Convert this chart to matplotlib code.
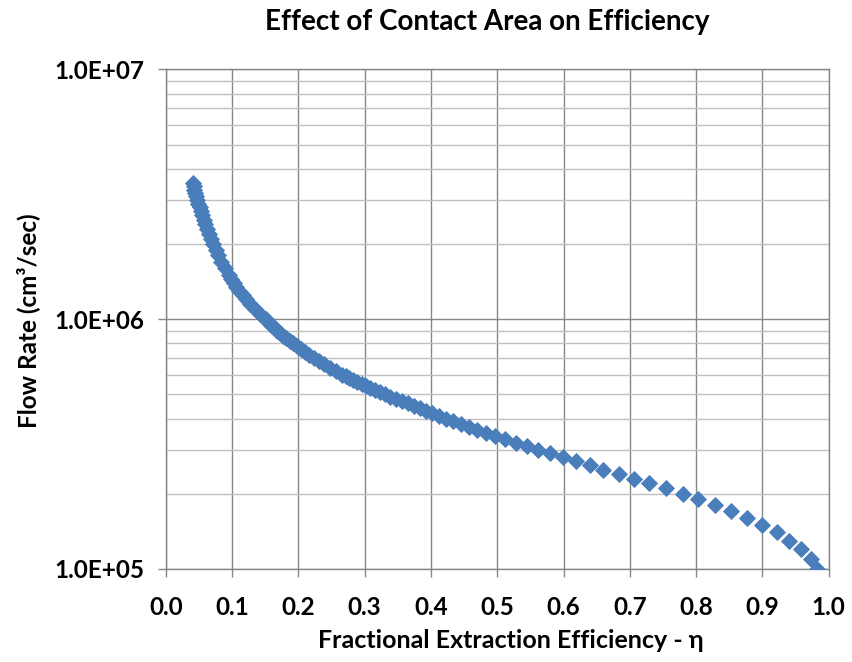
import numpy as np
import matplotlib
matplotlib.use("Agg")
import matplotlib.pyplot as plt
from matplotlib.ticker import FixedLocator, FuncFormatter, LogLocator, NullFormatter

plt.rcParams['font.family'] = ['Lato', 'DejaVu Sans']
plt.rcParams['font.weight'] = 'bold'

# flow rate in units of 1e5 cm3/sec
flow_rate_e5 = [
    1.0, 1.1, 1.2, 1.3, 1.4, 1.5, 1.6, 1.7, 1.8, 1.9,
    2.0, 2.1, 2.2, 2.3, 2.4, 2.5, 2.6, 2.7, 2.8, 2.9,
    3.0, 3.1, 3.2, 3.3, 3.4, 3.5, 3.6, 3.7, 3.8, 3.9,
    4.0, 4.1, 4.2, 4.3, 4.4, 4.5, 4.6, 4.7, 4.8, 4.9,
    5.0, 5.1, 5.2, 5.3, 5.4, 5.5, 5.6, 5.7, 5.8, 5.9,
    6.0, 6.2, 6.4, 6.6, 6.8, 7.0, 7.2, 7.4, 7.6, 7.8,
    8.0, 8.2, 8.4, 8.6, 8.8, 9.0, 9.2, 9.4, 9.6, 9.8,
    10.0, 10.5, 11.0, 11.5, 12.0, 12.5, 13.0, 13.5, 14.0, 14.5,
    15.0, 16.0, 17.0, 18.0, 19.0, 20.0, 21.0, 22.0, 23.0, 24.0,
    25.0, 26.0, 27.0, 28.0, 29.0, 30.0, 31.0, 32.0, 33.0, 34.0,
    35.0,
]
# fractional extraction efficiency (eta) for each flow rate
efficiency = [
    0.982, 0.973, 0.958, 0.940, 0.922, 0.899, 0.877, 0.853, 0.828, 0.803,
    0.780, 0.754, 0.729, 0.706, 0.684, 0.660, 0.640, 0.619, 0.599, 0.579,
    0.562, 0.545, 0.528, 0.512, 0.497, 0.483, 0.469, 0.457, 0.445, 0.433,
    0.4225, 0.412, 0.402, 0.3926, 0.383, 0.3738, 0.3648, 0.3557, 0.3471, 0.3388,
    0.3308, 0.3231, 0.3158, 0.3087, 0.3019, 0.2953, 0.2889, 0.2828, 0.2769, 0.2712,
    0.2658, 0.2561, 0.2472, 0.2388, 0.2309, 0.2233, 0.2163, 0.2096, 0.2033, 0.1974,
    0.1919, 0.1867, 0.1818, 0.1771, 0.1726, 0.1684, 0.1645, 0.1606, 0.1570, 0.1535,
    0.151, 0.1424, 0.1347, 0.1278, 0.1217, 0.1162, 0.1112, 0.1067, 0.1026, 0.0988,
    0.0953, 0.0894, 0.0841, 0.0794, 0.0753, 0.0715, 0.0681, 0.0650, 0.0622, 0.0596,
    0.0572, 0.0550, 0.0530, 0.0511, 0.0493, 0.0477, 0.0461, 0.0447, 0.0433, 0.0421,
    0.0409,
]
x_ticks = [0.0, 0.1, 0.2, 0.3, 0.4, 0.5, 0.6, 0.7, 0.8, 0.9, 1.0]
y_ticks = [1e5, 1e6, 1e7]

flow_rate = np.array(flow_rate_e5) * 1e5

fig = plt.figure(figsize=(8.52, 6.62), dpi=100)
ax = fig.add_axes([0.1945, 0.1405, 0.7782, 0.7548])

ax.plot(efficiency, flow_rate, linestyle='none', marker='D', markersize=7.8,
        color='#4A7EBB', markeredgecolor='#4A7EBB', markeredgewidth=0.6, zorder=3)

ax.set_yscale('log')
ax.set_xlim(0, 1.0)
ax.set_ylim(1e5, 1e7)

ax.xaxis.set_major_locator(FixedLocator(x_ticks))
ax.xaxis.set_major_formatter(FuncFormatter(lambda v, p: f'{v:.1f}'))
ax.yaxis.set_major_locator(FixedLocator(y_ticks))
ax.yaxis.set_major_formatter(FuncFormatter(lambda v, p: f'{v:.1E}'))
ax.yaxis.set_minor_locator(LogLocator(base=10, subs=np.arange(2, 10)))
ax.yaxis.set_minor_formatter(NullFormatter())

ax.grid(True, which='major', axis='both', color='#868686', linewidth=1.0, zorder=0)
ax.grid(True, which='minor', axis='y', color='#c0c0c0', linewidth=1.0, zorder=0)
ax.set_axisbelow(True)

for s in ax.spines.values():
    s.set_color('#868686')
    s.set_linewidth(1.0)

ax.tick_params(axis='both', which='major', direction='out', length=5.5, width=1,
               color='#868686', labelsize=17.5)
ax.tick_params(axis='x', which='major', pad=14)
ax.tick_params(axis='y', which='major', pad=10)
ax.tick_params(axis='y', which='minor', length=0)
for lbl in ax.get_xticklabels() + ax.get_yticklabels():
    lbl.set_fontweight('bold')

fig.text(0.572, 0.967, 'Effect of Contact Area on Efficiency', fontsize=20,
         fontweight='bold', ha='center', va='center')
fig.text(0.600, 0.033, 'Fractional Extraction Efficiency - η', fontsize=18,
         fontweight='bold', ha='center', va='center')
fig.text(0.033, 0.515, 'Flow Rate (cm³/sec)', fontsize=17.5, fontweight='bold',
         ha='center', va='center', rotation=90)

fig.savefig('out.png', dpi=100)
